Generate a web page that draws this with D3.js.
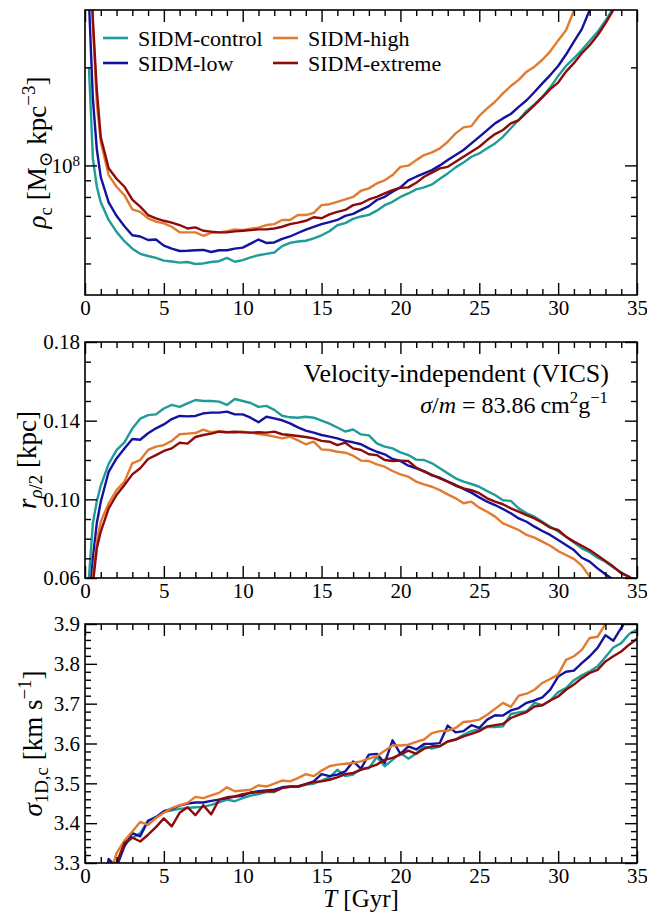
<!DOCTYPE html>
<html>
<head>
<meta charset="utf-8">
<script src="https://cdn.jsdelivr.net/npm/d3@7"></script>
</head>
<body style="margin:0;background:#fff">
<script>
// snapshot times [Gyr]
var T = [0.25, 0.5, 0.75, 1,
  1.5, 2, 2.5, 3, 3.5, 4, 4.5, 5, 5.5, 6,
  6.5, 7, 7.5, 8, 8.5, 9, 9.5, 10, 10.5, 11,
  11.5, 12, 12.5, 13, 13.5, 14, 14.5, 15, 15.5, 16,
  16.5, 17, 17.5, 18, 18.5, 19, 19.5, 20, 20.5, 21,
  21.5, 22, 22.5, 23, 23.5, 24, 24.5, 25, 25.5, 26,
  26.5, 27, 27.5, 28, 28.5, 29, 29.5, 30, 30.5, 31,
  31.5, 32, 32.5, 33, 33.5, 34, 34.5, 35];

// central density, units of 1e7 Msun/kpc^3
var rhoControl = [20, 10.5, 8.6, 7.7,
  6.8, 6.25, 5.85, 5.55, 5.35, 5.27, 5.2, 5.1, 5.07, 5.03,
  5.05, 4.98, 5.0, 5.05, 5.08, 5.2, 5.06, 5.12, 5.22, 5.3,
  5.35, 5.4, 5.65, 5.78, 5.84, 5.87, 5.97, 6.1, 6.28, 6.55,
  6.65, 6.85, 6.97, 7.05, 7.26, 7.55, 7.73, 8.0, 8.2, 8.44,
  8.56, 8.74, 9.1, 9.45, 9.86, 10.2, 10.63, 10.88, 11.28, 11.68,
  12.24, 13.0, 13.78, 14.7, 15.4, 16.25, 17.36, 18.8, 20.2, 21.3,
  22.6, 24.1, 25.7, 27.8, 30.4, 34, 38, 42];
var rhoLow = [32, 16, 11.2, 9.2,
  7.7, 7.0, 6.5, 6.1, 6.05, 5.9, 5.92, 5.67, 5.55, 5.46,
  5.47, 5.49, 5.5, 5.42, 5.49, 5.49, 5.55, 5.59, 5.75, 5.92,
  5.78, 5.8, 5.95, 6.05, 6.2, 6.35, 6.47, 6.6, 6.7, 6.8,
  7.0, 7.1, 7.3, 7.5, 7.83, 8.01, 8.3, 8.56, 9.0, 9.23,
  9.45, 9.67, 10.0, 10.38, 10.76, 11.15, 11.68, 12.24, 12.83, 13.46,
  13.94, 14.38, 15.12, 15.85, 16.8, 17.86, 18.94, 20.2, 21.9, 24.0,
  26.2, 30.0, 33, 36, 40, 44, 48, 52];
var rhoHigh = [50, 27, 15.5, 11.8,
  9.34, 8.6, 8.1, 7.33, 7.2, 6.88, 6.72, 6.64, 6.48, 6.23,
  6.23, 6.23, 6.08, 6.21, 6.23, 6.28, 6.36, 6.33, 6.39, 6.44,
  6.56, 6.6, 6.8, 6.8, 7.04, 7.04, 7.15, 7.55, 7.6, 7.73,
  7.86, 8.0, 8.36, 8.5, 8.8, 9.0, 9.34, 9.9, 9.98, 10.38,
  10.76, 10.96, 11.28, 11.82, 12.54, 13.08, 13.2, 14.2, 14.96, 15.68,
  16.64, 17.53, 18.3, 19.4, 20.1, 21.1, 22.4, 24.2, 26.0, 29.9,
  33, 36, 40, 44, 48, 52, 56, 60];
var rhoExtreme = [60, 28, 17, 12.2,
  9.8, 9.1, 8.6, 7.85, 7.47, 7.04, 6.88, 6.76, 6.67, 6.56,
  6.4, 6.45, 6.3, 6.26, 6.23, 6.23, 6.27, 6.3, 6.33, 6.36,
  6.36, 6.4, 6.48, 6.6, 6.67, 6.76, 6.93, 6.88, 7.07, 7.2,
  7.3, 7.55, 7.64, 7.86, 8.01, 8.2, 8.4, 8.54, 8.56, 8.84,
  9.23, 9.5, 9.79, 9.9, 10.26, 10.63, 11.01, 11.41, 11.96, 12.48,
  12.84, 13.46, 13.78, 14.51, 15.32, 16.17, 17.15, 17.96, 19.4, 20.6,
  22.1, 23.4, 25.1, 27.3, 30.0, 33, 36.5, 40];

// half-density radius [kpc]
var rControl = [0.06, 0.088, 0.099, 0.107,
  0.118, 0.125, 0.129, 0.136, 0.141, 0.1428, 0.1432, 0.1462, 0.148, 0.147,
  0.1488, 0.1505, 0.150, 0.150, 0.1497, 0.148, 0.151, 0.150, 0.149, 0.147,
  0.1475, 0.1455, 0.1425, 0.1417, 0.1415, 0.142, 0.1415, 0.140, 0.1385, 0.1365,
  0.1345, 0.1355, 0.133, 0.1325, 0.1285, 0.1268, 0.1259, 0.1239, 0.1225, 0.1202,
  0.12, 0.1183, 0.1158, 0.1132, 0.1107, 0.109, 0.1078, 0.1064, 0.1042, 0.1022,
  0.0995, 0.0992, 0.0954, 0.0929, 0.0912, 0.0886, 0.0861, 0.0836, 0.081, 0.0781,
  0.0751, 0.0731, 0.0703, 0.0683, 0.0653, 0.0629, 0.0605, 0.058];
var rLow = [0.045, 0.07, 0.088, 0.0988,
  0.114, 0.1208, 0.1259, 0.1307, 0.1303, 0.1336, 0.1361, 0.1381, 0.1408, 0.1424,
  0.1422, 0.1424, 0.1437, 0.1441, 0.1441, 0.1446, 0.1432, 0.1432, 0.1415, 0.1392,
  0.142, 0.1412, 0.1402, 0.1386, 0.1366, 0.1349, 0.1339, 0.1327, 0.1319, 0.131,
  0.1297, 0.129, 0.128, 0.1259, 0.1242, 0.1229, 0.1205, 0.1195, 0.1171, 0.1158,
  0.1144, 0.1122, 0.111, 0.109, 0.1073, 0.1053, 0.1034, 0.101, 0.0988, 0.0971,
  0.0951, 0.0929, 0.0903, 0.0886, 0.0861, 0.0839, 0.0819, 0.0793, 0.0768, 0.0742,
  0.0703, 0.0683, 0.0649, 0.0619, 0.0592, 0.056, 0.053, 0.05];
var rHigh = [0.035, 0.06, 0.0785, 0.0886,
  0.098, 0.1047, 0.109, 0.1183, 0.12, 0.1251, 0.1268, 0.1276, 0.1297, 0.1331,
  0.1334, 0.1337, 0.1354, 0.1341, 0.1347, 0.1341, 0.1339, 0.1344, 0.1339, 0.1332,
  0.1327, 0.1319, 0.131, 0.1319, 0.13, 0.128, 0.1293, 0.1254, 0.1251, 0.1242,
  0.1237, 0.1222, 0.1197, 0.1195, 0.1178, 0.1166, 0.1144, 0.1127, 0.1115, 0.109,
  0.1076, 0.1064, 0.1047, 0.1025, 0.1005, 0.098, 0.0988, 0.0958, 0.0937, 0.0912,
  0.0878, 0.0861, 0.0844, 0.0819, 0.0805, 0.0785, 0.0764, 0.0737, 0.0717, 0.0697,
  0.0663, 0.0607, 0.055, 0.05, 0.046, 0.042, 0.038, 0.034];
var rExtreme = [0.03, 0.057, 0.0751, 0.0836,
  0.0954, 0.1022, 0.1073, 0.1127, 0.1158, 0.1205, 0.1225, 0.1246, 0.1259, 0.1288,
  0.1283, 0.1317, 0.1327, 0.1334, 0.1344, 0.1341, 0.1344, 0.1341, 0.1339, 0.1341,
  0.1339, 0.1344, 0.1331, 0.1327, 0.1322, 0.1317, 0.131, 0.1297, 0.1293, 0.1276,
  0.1288, 0.1259, 0.1251, 0.1229, 0.1225, 0.12, 0.1195, 0.1197, 0.1195, 0.1161,
  0.1141, 0.1124, 0.1107, 0.109, 0.1069, 0.1056, 0.1047, 0.1031, 0.1005, 0.0988,
  0.0975, 0.0954, 0.0937, 0.092, 0.0903, 0.0881, 0.0856, 0.0844, 0.081, 0.0785,
  0.0764, 0.0742, 0.0714, 0.0686, 0.0658, 0.0624, 0.0607, 0.058];

// central 1D velocity dispersion [km/s]
var sigControl = [3.0, 3.05, 3.1, 3.15,
  3.24, 3.3, 3.346, 3.363, 3.375, 3.406, 3.415, 3.428, 3.432, 3.436,
  3.438, 3.44, 3.441, 3.446, 3.452, 3.459, 3.455, 3.463, 3.469, 3.473,
  3.478, 3.478, 3.49, 3.491, 3.491, 3.497, 3.499, 3.507, 3.515, 3.534,
  3.518, 3.522, 3.537, 3.538, 3.566, 3.543, 3.559, 3.576, 3.562, 3.575,
  3.593, 3.587, 3.593, 3.605, 3.61, 3.622, 3.631, 3.636, 3.641, 3.641,
  3.643, 3.674, 3.678, 3.681, 3.702, 3.696, 3.708, 3.729, 3.739, 3.759,
  3.771, 3.781, 3.794, 3.817, 3.841, 3.852, 3.875, 3.886];
var sigLow = [3.0, 3.05, 3.1, 3.2,
  3.31, 3.29, 3.342, 3.375, 3.367, 3.406, 3.415, 3.43, 3.436, 3.444,
  3.449, 3.452, 3.452, 3.456, 3.459, 3.463, 3.467, 3.469, 3.477, 3.48,
  3.482, 3.484, 3.49, 3.492, 3.492, 3.498, 3.505, 3.523, 3.518, 3.522,
  3.53, 3.555, 3.537, 3.572, 3.574, 3.551, 3.608, 3.574, 3.593, 3.585,
  3.599, 3.599, 3.601, 3.645, 3.628, 3.631, 3.646, 3.639, 3.66, 3.671,
  3.67, 3.683, 3.689, 3.702, 3.708, 3.716, 3.735, 3.768, 3.78, 3.783,
  3.802, 3.819, 3.84, 3.872, 3.858, 3.89, 3.92, 3.95];
var sigHigh = [3.0, 3.05, 3.1, 3.17,
  3.26, 3.325, 3.356, 3.379, 3.403, 3.396, 3.413, 3.426, 3.438, 3.445,
  3.451, 3.466, 3.463, 3.47, 3.476, 3.49, 3.48, 3.482, 3.484, 3.495,
  3.492, 3.499, 3.507, 3.505, 3.513, 3.523, 3.518, 3.532, 3.543, 3.547,
  3.549, 3.551, 3.555, 3.562, 3.568, 3.582, 3.595, 3.595, 3.597, 3.604,
  3.61, 3.626, 3.631, 3.632, 3.639, 3.654, 3.656, 3.66, 3.672, 3.687,
  3.702, 3.692, 3.72, 3.725, 3.735, 3.752, 3.762, 3.773, 3.81, 3.819,
  3.835, 3.865, 3.868, 3.9, 3.93, 3.96, 3.99, 4.02];
var sigExtreme = [3.0, 3.05, 3.1, 3.16,
  3.25, 3.3, 3.35, 3.364, 3.354, 3.371, 3.39, 3.412, 3.392, 3.426,
  3.44, 3.42, 3.445, 3.422, 3.459, 3.465, 3.467, 3.473, 3.476, 3.478,
  3.48, 3.48, 3.488, 3.491, 3.492, 3.498, 3.503, 3.505, 3.509, 3.515,
  3.523, 3.526, 3.534, 3.54, 3.547, 3.559, 3.564, 3.572, 3.582, 3.574,
  3.587, 3.593, 3.593, 3.605, 3.61, 3.618, 3.624, 3.631, 3.643, 3.646,
  3.649, 3.664, 3.672, 3.679, 3.693, 3.696, 3.708, 3.718, 3.735, 3.748,
  3.764, 3.777, 3.785, 3.806, 3.819, 3.831, 3.848, 3.863];

var names = ["SIDM-control", "SIDM-low", "SIDM-high", "SIDM-extreme"];
var colors = ["#1f9c97", "#13139e", "#e27b30", "#8c0b0b"];

// tick values and labels
var xTicks = [0, 5, 10, 15, 20, 25, 30, 35];
var xTickLabels = ["0", "5", "10", "15", "20", "25", "30", "35"];
var rhoTicks = [1e8];
var rhoTickLabels = [["10", "8"]];
var rTicks = [0.06, 0.10, 0.14, 0.18];
var rTickLabels = ["0.06", "0.10", "0.14", "0.18"];
var sigTicks = [3.3, 3.4, 3.5, 3.6, 3.7, 3.8, 3.9];
var sigTickLabels = ["3.3", "3.4", "3.5", "3.6", "3.7", "3.8", "3.9"];

var FONT = "'Liberation Serif', 'Times New Roman', Times, 'DejaVu Serif', serif";
var width = 647, height = 913;
var left = 85, right = 637;

var svg = d3.select("body").append("svg")
    .attr("width", width)
    .attr("height", height)
    .attr("font-family", FONT)
    .style("font-family", FONT);
svg.append("rect").attr("width", width).attr("height", height).attr("fill", "#fff");

var x = d3.scaleLinear().domain([0, 35]).range([left, right]);
var xMinor = d3.range(0, 36).filter(function(d){ return d % 5 !== 0; });

var panels = [
    {series: [rhoControl, rhoLow, rhoHigh, rhoExtreme], unit: 1e7,
     y: d3.scaleLog().domain([4e7, 3e8]).range([295, 10]),
     major: rhoTicks, labels: rhoTickLabels,
     minor: [5e7, 6e7, 7e7, 8e7, 9e7, 2e8]},
    {series: [rControl, rLow, rHigh, rExtreme], unit: 1,
     y: d3.scaleLinear().domain([0.06, 0.18]).range([578, 342]),
     major: rTicks, labels: rTickLabels,
     minor: [0.07, 0.08, 0.09, 0.11, 0.12, 0.13, 0.15, 0.16, 0.17]},
    {series: [sigControl, sigLow, sigHigh, sigExtreme], unit: 1,
     y: d3.scaleLinear().domain([3.3, 3.9]).range([863, 624]),
     major: sigTicks, labels: sigTickLabels,
     minor: d3.range(0, 31).filter(function(i){ return i % 5 !== 0; }).map(function(i){ return 3.3 + i * 0.02; })}
];

// text with italic / sub / sup pieces
function rich(t, parts, fs){
    var cur = 0;
    parts.forEach(function(p){
        var off = p.sub ? 0.22 * fs : (p.sup ? -0.42 * fs : 0);
        var ts = t.append("tspan").text(p.s).attr("dy", off - cur);
        if (p.sub || p.sup) ts.style("font-size", (0.7 * fs) + "px");
        if (p.it) ts.style("font-style", "italic");
        cur = off;
    });
}

panels.forEach(function(p, pi){
    var y = p.y, y0 = y.range()[0], y1 = y.range()[1];
    var g = svg.append("g");

    g.append("clipPath").attr("id", "clip" + pi)
        .append("rect")
        .attr("x", left).attr("y", y1)
        .attr("width", right - left).attr("height", y0 - y1);

    var line = d3.line()
        .x(function(d, i){ return x(T[i]); })
        .y(function(d){ return y(d * p.unit); });

    g.append("g").attr("clip-path", "url(#clip" + pi + ")")
        .selectAll("path")
        .data(p.series)
        .enter().append("path")
        .attr("d", line)
        .attr("fill", "none")
        .attr("stroke", function(d, i){ return colors[i]; })
        .attr("stroke-width", 2.4)
        .attr("stroke-linejoin", "round");

    function ax(axis, tr, vals, size, fmt){
        var a = g.append("g").attr("transform", tr)
            .call(axis.tickValues(vals).tickSizeInner(-size).tickSizeOuter(0)
                .tickPadding(5).tickFormat(fmt || ""));
        a.select(".domain").remove();
        a.attr("font-family", FONT).attr("font-size", 21);
        a.selectAll("line").attr("stroke", "#000").attr("stroke-width", 1.4);
        a.selectAll("text").attr("fill", "#000").style("font-family", FONT).style("font-size", "21px");
        return a;
    }
    ax(d3.axisBottom(x), "translate(0," + y0 + ")", xTicks, 12, function(d, i){ return xTickLabels[i]; });
    ax(d3.axisBottom(x), "translate(0," + y0 + ")", xMinor, 6);
    ax(d3.axisTop(x), "translate(0," + y1 + ")", xTicks, 12);
    ax(d3.axisTop(x), "translate(0," + y1 + ")", xMinor, 6);
    var yl = ax(d3.axisLeft(y), "translate(" + left + ",0)", p.major, 12,
        pi === 0 ? function(){ return ""; } : function(d, i){ return p.labels[i]; });
    ax(d3.axisLeft(y), "translate(" + left + ",0)", p.minor, 6);
    ax(d3.axisRight(y), "translate(" + right + ",0)", p.major, 12);
    ax(d3.axisRight(y), "translate(" + right + ",0)", p.minor, 6);

    if (pi === 0) {
        yl.selectAll(".tick text").each(function(d, i){
            var t = d3.select(this);
            t.append("tspan").text(p.labels[i][0]);
            t.append("tspan").attr("dy", "-0.45em").style("font-size", "15px").text(p.labels[i][1]);
        });
    }

    g.append("rect")
        .attr("x", left).attr("y", y1)
        .attr("width", right - left).attr("height", y0 - y1)
        .attr("fill", "none").attr("stroke", "#000").attr("stroke-width", 1.6);
});

// y axis labels
var yLabels = [
    {x: 46, y: 152.5, parts: [{s: "ρ", it: true}, {s: "c", sub: true}, {s: " [M"}, {s: "⊙", sub: true}, {s: " kpc"}, {s: "−3", sup: true}, {s: "]"}]},
    {x: 36, y: 460, parts: [{s: "r", it: true}, {s: "ρ", sub: true, it: true}, {s: "/2", sub: true}, {s: " [kpc]"}]},
    {x: 42, y: 743.5, parts: [{s: "σ", it: true}, {s: "1D,c", sub: true}, {s: " [km s"}, {s: "−1", sup: true}, {s: "]"}]}
];
yLabels.forEach(function(l){
    var t = svg.append("text")
        .attr("transform", "translate(" + l.x + "," + l.y + ") rotate(-90)")
        .attr("text-anchor", "middle")
        .style("font-family", FONT)
        .style("font-size", "27px");
    rich(t, l.parts, 27);
});

// x axis label
var xl = svg.append("text")
    .attr("x", (left + right) / 2).attr("y", 907)
    .attr("text-anchor", "middle")
    .style("font-family", FONT)
    .style("font-size", "25px");
rich(xl, [{s: "T", it: true}, {s: " [Gyr]"}], 25);

// legend
var legendPos = [[103, 38], [103, 63], [273, 38], [273, 63]];
var legend = svg.append("g").selectAll("g")
    .data(names)
    .enter().append("g")
    .attr("transform", function(d, i){ return "translate(" + legendPos[i][0] + "," + legendPos[i][1] + ")"; });
legend.append("line")
    .attr("x1", 0).attr("x2", 25)
    .attr("stroke", function(d, i){ return colors[i]; })
    .attr("stroke-width", 2.6);
legend.append("text")
    .attr("x", 35).attr("y", 7.5)
    .style("font-family", FONT)
    .style("font-size", "22px")
    .text(function(d){ return d; });

// annotation in the middle panel
svg.append("text")
    .attr("x", 609).attr("y", 382)
    .attr("text-anchor", "end")
    .style("font-family", FONT)
    .style("font-size", "26px")
    .text("Velocity-independent (VICS)");
var ann = svg.append("text")
    .attr("x", 608).attr("y", 413)
    .attr("text-anchor", "end")
    .style("font-family", FONT)
    .style("font-size", "24px");
rich(ann, [{s: "σ", it: true}, {s: "/"}, {s: "m", it: true}, {s: " = 83.86\u2009cm"}, {s: "2", sup: true}, {s: "g"}, {s: "−1", sup: true}], 24);
</script>
</body>
</html>
